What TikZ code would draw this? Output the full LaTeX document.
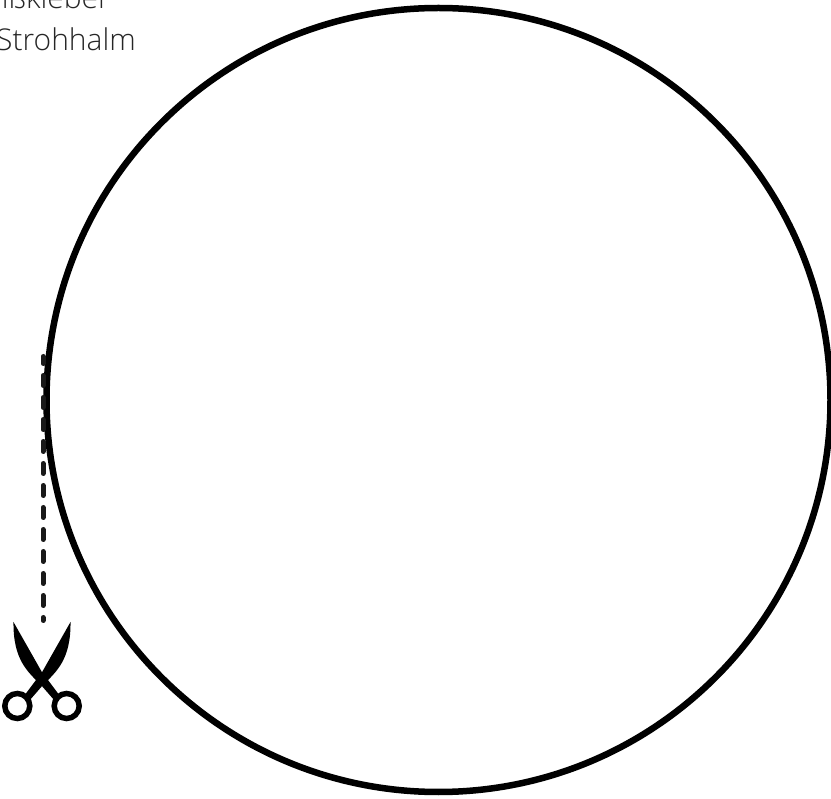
\documentclass[tikz,border=0pt]{standalone}
\usepackage{fontspec}
\setmainfont{Open Sans Light}
\definecolor{txt}{HTML}{262626}
\tikzset{lbl/.style={font=\fontsize{30pt}{36pt}\selectfont,text=txt,inner sep=0pt},
ring/.style={draw=black,line width=6.5pt},
cut/.style={draw=black!90,line width=5pt,line cap=round,dash pattern=on 10pt off 12pt,dash phase=3pt},
ink/.style={fill=black,draw=none},
loop/.style={draw=black,line width=5.5pt,fill=none}}
\begin{document}
\begin{tikzpicture}[x=1pt,y=-1pt]
\useasboundingbox (0,0) rectangle (831,799);
\clip (0,0) rectangle (831,799);
\node[ring,circle,minimum size=784pt,inner sep=0pt,outer sep=0pt] (c) at (438.5,400) {};
\node[lbl,anchor=base east] (a) at (110,8.5) {Heißkleber};
\node[lbl,anchor=base east] (b) at (136,50.5) {Strohhalm};
\coordinate (p) at (43,356.5);
\coordinate (q) at (43,620.5);
\draw[cut] (p) -- (q);
\path[ink] (13.5,622) -- (41.7,671.7) -- (60,696) -- (54.5,700.5) -- (41,685) .. controls (28,672) and (13,660) .. cycle;
\path[ink] (70.5,622) -- (42.3,671.7) -- (24,696) -- (29.5,700.5) -- (43,685) .. controls (56,672) and (71,660) .. cycle;
\node[loop,circle,minimum size=25pt,inner sep=0pt] (l) at (17.3,706) {};
\node[loop,circle,minimum size=25pt,inner sep=0pt] (r) at (66.7,706) {};
\end{tikzpicture}
\end{document}
